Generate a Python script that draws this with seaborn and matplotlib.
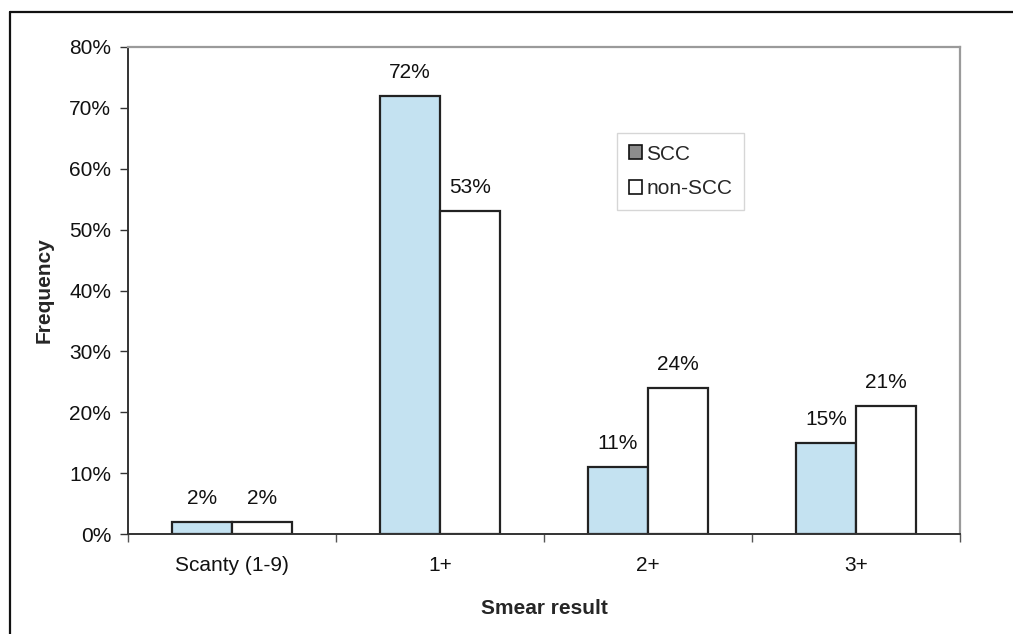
import matplotlib
matplotlib.use("Agg")
import matplotlib.pyplot as plt
from matplotlib.patches import Patch
from matplotlib.lines import Line2D
from matplotlib.ticker import FixedLocator, PercentFormatter
import seaborn as sns
import pandas as pd

# Smear result categories and frequency (%) per group
categories = ["Scanty (1-9)", "1+", "2+", "3+"]
scc = [2, 72, 11, 15]
non_scc = [2, 53, 24, 21]
groups = ["SCC", "non-SCC"]
colors = {"SCC": "#BDE5F8", "non-SCC": "#FFFFFF"}

df = pd.DataFrame({
    "Smear result": categories * 2,
    "Frequency": scc + non_scc,
    "Group": ["SCC"] * len(categories) + ["non-SCC"] * len(categories),
})

sns.set_theme(style="white")
plt.rcParams["font.family"] = ["Liberation Sans", "DejaVu Sans"]

FS = 15

fig = plt.figure(figsize=(10.13, 6.34), dpi=100)
ax = fig.add_axes([128 / 1013, 1 - 534 / 634, 832 / 1013, 487 / 634])

sns.barplot(data=df, x="Smear result", y="Frequency", hue="Group",
            hue_order=groups, palette=colors, order=categories,
            width=0.577, edgecolor="#222222", linewidth=1.6,
            legend=False, ax=ax)

# value labels above each bar
for container, vals in zip(ax.containers, [scc, non_scc]):
    for bar, v in zip(container, vals):
        ax.annotate(f"{v}%", (bar.get_x() + bar.get_width() / 2, bar.get_height()),
                    xytext=(0, 10), textcoords="offset points",
                    ha="center", va="bottom", fontsize=FS, color="#111111")

ax.set_xlim(-0.5, len(categories) - 0.5)
ax.set_ylim(0, 80)
ax.yaxis.set_major_locator(FixedLocator(range(0, 81, 10)))
ax.yaxis.set_major_formatter(PercentFormatter(decimals=0))
ax.xaxis.set_minor_locator(FixedLocator([i - 0.5 for i in range(len(categories) + 1)]))

ax.tick_params(axis="y", which="major", direction="out", length=6, width=1,
               color="#333333", labelsize=FS, labelcolor="#111111", left=True, pad=6)
ax.tick_params(axis="x", which="major", length=0, labelsize=FS,
               labelcolor="#111111", pad=16)
ax.tick_params(axis="x", which="minor", direction="out", length=6, width=1,
               color="#555555", bottom=True)

for side in ["left", "bottom"]:
    ax.spines[side].set_color("#333333")
    ax.spines[side].set_linewidth(1.4)
for side in ["top", "right"]:
    ax.spines[side].set_visible(True)
    ax.spines[side].set_color("#9a9a9a")
    ax.spines[side].set_linewidth(1.6)

ax.set_xlabel("Smear result", fontsize=FS, fontweight="bold", labelpad=17)
ax.set_ylabel("Frequency", fontsize=FS, fontweight="bold", labelpad=11)

handles = [Patch(facecolor="#8c8c8c", edgecolor="#111111", linewidth=1.2, label="SCC"),
           Patch(facecolor="#FFFFFF", edgecolor="#111111", linewidth=1.2, label="non-SCC")]
leg = ax.legend(handles=handles, loc="upper left", bbox_to_anchor=(0.588, 0.823),
                fontsize=FS, frameon=True, fancybox=False, handlelength=0.65,
                handleheight=0.65, handletextpad=0.2, borderpad=0.55,
                labelspacing=0.75, borderaxespad=0)
leg.get_frame().set_edgecolor("#cccccc")
leg.get_frame().set_linewidth(1.0)

# outer frame lines (top and left)
fig.add_artist(Line2D([10 / 1013, 1.0], [1 - 12 / 634, 1 - 12 / 634],
                      transform=fig.transFigure, color="#111111", linewidth=1.6))
fig.add_artist(Line2D([10 / 1013, 10 / 1013], [0.0, 1 - 12 / 634],
                      transform=fig.transFigure, color="#111111", linewidth=1.6))

fig.savefig("out.png", dpi=100)
